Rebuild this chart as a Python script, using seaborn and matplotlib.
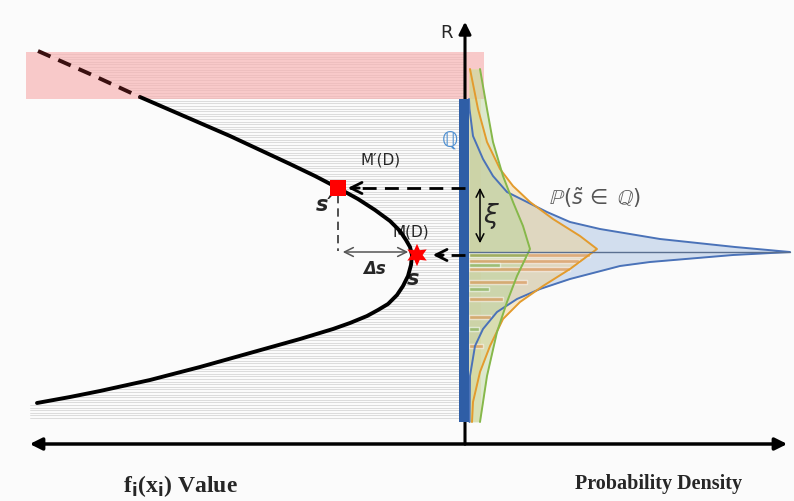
import numpy as np
import pandas as pd
import matplotlib
matplotlib.use("Agg")
import matplotlib.pyplot as plt
import seaborn as sns

# ------------------------
# DATA (pixel space)
# ------------------------
# response curve f_i(x_i): dashed start, upper arm, lower arm
curve_dash_x = [38, 90, 140]
curve_dash_y = [52, 75, 98]
curve_upper_x = [140, 170, 200, 230, 260, 290, 315, 338, 358, 375, 390, 400, 406, 410, 412]
curve_upper_y = [98, 111, 124, 137, 151, 165, 177, 189, 200, 211, 222, 232, 241, 248, 256]
curve_lower_x = [411, 408, 403, 397, 388, 378, 367, 350, 333, 300, 275, 250, 200, 150, 100, 70, 37]
curve_lower_y = [266, 277, 287, 296, 305, 311, 317, 324, 330, 340, 347, 354, 368, 381, 392, 398, 404]

# densities drawn sideways off the R axis (y level, x extent)
blue_y = [100, 110, 137, 160, 177, 193, 203, 213, 223, 230, 240, 248, 253,
          256, 263, 267, 280, 290, 300, 313, 330, 347, 377, 423]
blue_x = [469, 469.5, 473, 483, 493, 507, 527, 547, 570, 600, 660, 735, 790,
          733, 650, 620, 570, 540, 517, 497, 483, 475, 470, 469.5]
orange_y = [70, 110, 143, 170, 187, 203, 220, 237, 250, 270, 287, 303, 320, 347, 373, 403, 423]
orange_x = [470, 478, 487, 500, 513, 530, 553, 580, 597, 570, 543, 520, 503, 490, 480, 473, 472]
green_y = [70, 110, 143, 177, 203, 227, 250, 277, 303, 333, 377, 423]
green_x = [480, 487, 493, 503, 513, 523, 530, 517, 507, 497, 487, 480]

# histogram-like bars under the densities
hist_orange_y = [256, 262, 270, 283, 300, 318, 347]
hist_orange_w = [121, 110, 101, 58, 34, 22, 14]
hist_green_y = [256, 266, 290, 330]
hist_green_w = [58, 31, 20, 10]

s_prime = (338, 189)
s_point = (417, 256)

# ------------------------
# FIGURE
# ------------------------
sns.set_theme(style="white")
plt.rcParams["font.family"] = ["DejaVu Sans"]

fig = plt.figure(figsize=(7.94, 5.02), dpi=100)
fig.patch.set_facecolor("#fbfbfb")
ax = fig.add_axes([0, 0, 1, 1])
ax.set_xlim(0, 794)
ax.set_ylim(502, 0)
ax.axis("off")

AX_X = 465
BASE = 469

# striped background left of the axis
for yy in np.arange(55, 421, 2.6):
    ax.plot([30, AX_X], [yy, yy], color="#d3d3d3", lw=0.55, zorder=1)

# interior of the curve stays plain
poly_x = curve_dash_x + curve_upper_x[1:] + curve_lower_x + [0, 0]
poly_y = curve_dash_y + curve_upper_y[1:] + curve_lower_y + [404, 52]
ax.fill(poly_x, poly_y, color="#fbfbfb", zorder=2)

# pink band
ax.fill_between([26, 484], 53, 100, color="#f7b4b4", alpha=0.7, lw=0, zorder=3)

# densities
ax.fill_betweenx([70, 423], BASE, 481, color="#f3e3a8", alpha=0.5, lw=0, zorder=3)
ax.fill_betweenx(blue_y, BASE, blue_x, color="#b7cbe6", alpha=0.6, lw=0, zorder=3)
ax.fill_betweenx(orange_y, BASE, orange_x, color="#f1cf8a", alpha=0.45, lw=0, zorder=3)
ax.fill_betweenx(green_y, BASE, green_x, color="#b7d395", alpha=0.45, lw=0, zorder=3)
ax.barh(hist_orange_y, hist_orange_w, left=BASE, height=4, color="#dc8a45", alpha=0.55, zorder=3)
ax.barh(hist_green_y, hist_green_w, left=BASE, height=4, color="#7fae52", alpha=0.6, zorder=3)

dens = pd.DataFrame({"x": blue_x, "y": blue_y})
sns.lineplot(data=dens, x="x", y="y", sort=False, estimator=None, color="#4a72b8", lw=1.4, ax=ax, zorder=4)
dens = pd.DataFrame({"x": orange_x, "y": orange_y})
sns.lineplot(data=dens, x="x", y="y", sort=False, estimator=None, color="#e39b2d", lw=1.4, ax=ax, zorder=4)
dens = pd.DataFrame({"x": green_x, "y": green_y})
sns.lineplot(data=dens, x="x", y="y", sort=False, estimator=None, color="#86b84a", lw=1.4, ax=ax, zorder=4)
ax.plot([BASE, 790], [253, 253], color="#5a6f90", lw=1.0, zorder=4)

# blue Q bar and axes
ax.fill_between([459, 469], 100, 423, color="#2f5ea6", lw=0, zorder=5)
ax.annotate("", xy=(AX_X, 20), xytext=(AX_X, 448),
            arrowprops=dict(arrowstyle="-|>", lw=2.2, color="black", mutation_scale=18), zorder=4)
ax.annotate("", xy=(27, 445), xytext=(790, 445),
            arrowprops=dict(arrowstyle="<|-|>", lw=2.5, color="black", mutation_scale=18), zorder=6)

# the curve
cdf = pd.DataFrame({"x": curve_upper_x + curve_lower_x, "y": curve_upper_y + curve_lower_y})
sns.lineplot(data=cdf, x="x", y="y", sort=False, estimator=None, color="black", lw=2.8, ax=ax, zorder=6)
ax.plot(curve_dash_x, curve_dash_y, color="#3a1010", lw=2.8, ls=(0, (3.5, 2.2)), zorder=6)

# guide arrows
ax.plot([AX_X, 350], [s_prime[1], s_prime[1]], color="black", lw=2, ls=(0, (5, 3)), zorder=6)
ax.annotate("", xy=(345, s_prime[1]), xytext=(362, s_prime[1]),
            arrowprops=dict(arrowstyle="->", lw=2, color="black", mutation_scale=20), zorder=6)
ax.plot([AX_X, 438], [s_point[1], s_point[1]], color="black", lw=2, ls=(0, (5, 3)), zorder=6)
ax.annotate("", xy=(430, s_point[1]), xytext=(446, s_point[1]),
            arrowprops=dict(arrowstyle="->", lw=2, color="black", mutation_scale=20), zorder=6)
ax.plot([s_prime[0], s_prime[0]], [196, 252], color="#333333", lw=1.2, ls=(0, (5, 3)), zorder=6)
ax.annotate("", xy=(340, 253), xytext=(411, 253),
            arrowprops=dict(arrowstyle="<->", lw=1.1, color="#555555", mutation_scale=16), zorder=6)
ax.annotate("", xy=(480, 186), xytext=(480, 247),
            arrowprops=dict(arrowstyle="<->", lw=1.1, color="black", mutation_scale=14), zorder=6)

# markers
sns.scatterplot(x=[s_prime[0]], y=[s_prime[1]], marker="s", s=120, color="#ff0000", edgecolor="none", ax=ax, zorder=7)
sns.scatterplot(x=[s_point[0]], y=[s_point[1]], marker=(6, 1, 0), s=260, color="#ff0000", edgecolor="none", ax=ax, zorder=7)

# text
ax.text(447, 33, "R", fontsize=13, ha="center", va="center")
ax.text(450, 141, "ℚ", fontsize=15, color="#4f8fd0", ha="center", va="center")
ax.text(595, 198, r"$\mathbb{P}(\tilde{s}\,\in\;\mathbb{Q})$", fontsize=15, color="#555555",
        ha="center", va="center", family="DejaVu Serif")
ax.text(381, 160, "M\u2032(D)", fontsize=11, ha="center", va="center")
ax.text(411, 232, "M(D)", fontsize=11, ha="center", va="center")
ax.text(325, 205, "s\u2032", fontsize=15, fontweight="bold", style="italic", ha="center", va="center")
ax.text(413, 279, "s", fontsize=15, fontweight="bold", style="italic", ha="center", va="center")
ax.text(374, 269, "Δs", fontsize=12, fontweight="bold", style="italic", ha="center", va="center")
ax.text(491, 216, r"$\xi$", fontsize=19, ha="center", va="center")
ax.text(180, 486, r"f$_\mathbf{i}$(x$_\mathbf{i}$) Value", fontsize=17, fontweight="bold",
        ha="center", va="center", family="Liberation Serif")
ax.text(659, 484, "Probability Density", fontsize=14.5, fontweight="bold",
        ha="center", va="center", family="Liberation Serif")

fig.savefig("out.png", dpi=100, facecolor=fig.get_facecolor())
